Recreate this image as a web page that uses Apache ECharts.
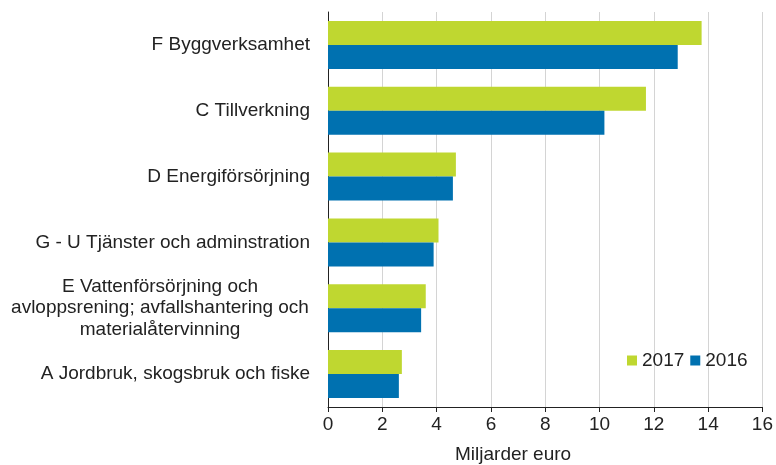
<!DOCTYPE html>
<html><head><meta charset="utf-8">
<script src="https://cdn.jsdelivr.net/npm/echarts@6/dist/echarts.min.js"></script>
<style>html,body{margin:0;padding:0;background:#fff}#c{width:776px;height:465px}</style>
</head><body><div id="c"></div>
<script>
const categories = [
  'F Byggverksamhet',
  'C Tillverkning',
  'D Energiförsörjning',
  'G - U Tjänster och adminstration',
  'E Vattenförsörjning och\navloppsrening; avfallshantering och\nmaterialåtervinning',
  'A Jordbruk, skogsbruk och fiske'
];
const values2017 = [13.76, 11.71, 4.71, 4.07, 3.60, 2.72];
const values2016 = [12.88, 10.18, 4.60, 3.89, 3.43, 2.61];
const xTicks = [0, 2, 4, 6, 8, 10, 12, 14, 16];
const axisName = 'Miljarder euro';

const FONT = 'Liberation Sans, Arial, sans-serif';
const chart = echarts.init(document.getElementById('c'));
chart.setOption({
  animation: false,
  textStyle: { fontFamily: FONT },
  grid: { left: 328, right: 12, top: 12, bottom: 58, containLabel: false },
  legend: {
    data: ['2017', '2016'],
    left: 622, top: 346,
    itemWidth: 10, itemHeight: 10, itemGap: 6,
    icon: 'rect',
    textStyle: { fontSize: 19, color: '#222', fontFamily: FONT }
  },
  xAxis: {
    type: 'value',
    min: xTicks[0], max: xTicks[xTicks.length - 1], interval: 2,
    axisLine: { show: true, lineStyle: { color: '#222', width: 1 } },
    axisTick: { show: true, length: 5, lineStyle: { color: '#222' } },
    axisLabel: { fontSize: 19, color: '#222', margin: 8, fontFamily: FONT },
    splitLine: { show: true, lineStyle: { color: '#d4d4d4', width: 1 } }
  },
  yAxis: {
    type: 'category',
    data: categories,
    inverse: true,
    axisLine: { show: true, onZero: false, lineStyle: { color: '#222', width: 1 } },
    axisTick: { show: false },
    axisLabel: {
      fontSize: 19, color: '#222', margin: 18, fontFamily: FONT,
      formatter: function (v) {
        if (v.indexOf('\n') >= 0) {
          return v.split('\n').map(s => '{c|' + s + '}').join('\n');
        }
        return v;
      },
      rich: { c: { fontSize: 19, color: '#222', align: 'center', width: 300, lineHeight: 21.5, fontFamily: FONT } }
    }
  },
  series: [
    { name: '2017', type: 'bar', data: values2017, itemStyle: { color: '#bfd730' }, barGap: '0%', barCategoryGap: '27%' },
    { name: '2016', type: 'bar', data: values2016, itemStyle: { color: '#0071b0' }, barGap: '0%', barCategoryGap: '27%' }
  ],
  graphic: [{
    type: 'text', left: 455, top: 445,
    style: { text: axisName, fontSize: 19, fill: '#222', fontFamily: FONT }
  }]
});
</script></body></html>
